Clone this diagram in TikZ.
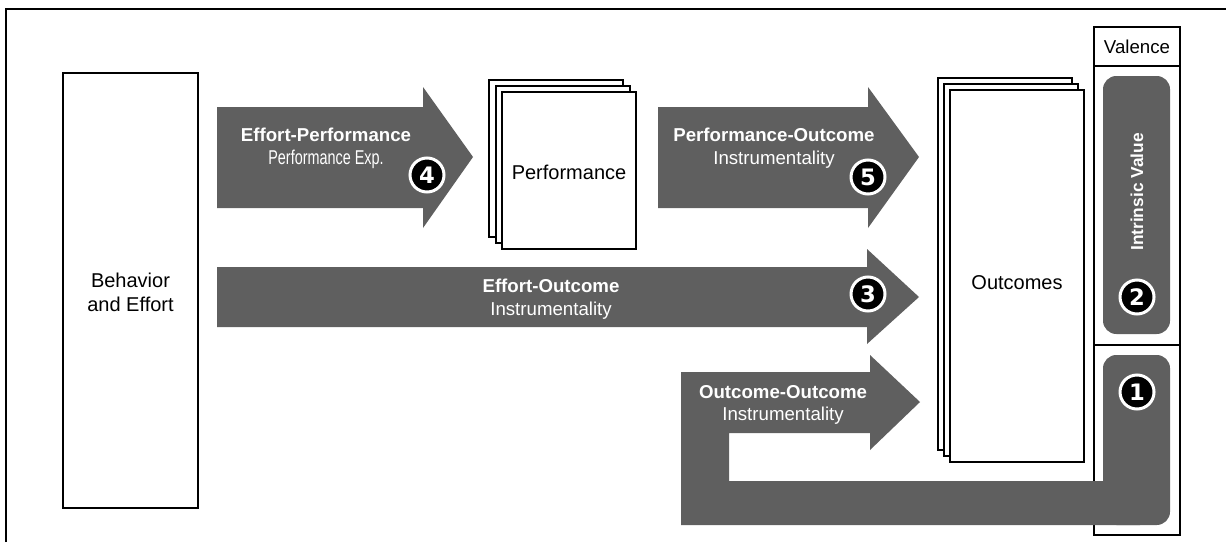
\documentclass[tikz,border=0pt]{standalone}
\usepackage{fontspec}
\setmainfont{Liberation Sans}
\newfontfamily\narrowsans[FakeStretch=0.72]{Liberation Sans}
\newfontfamily\digitfont{DejaVu Sans}
\definecolor{arrowgray}{RGB}{95,95,95}

\tikzset{
  sheet/.style={draw, line width=1.5pt, fill=white},
  boxlabel/.style={align=center, font=\fontsize{15pt}{18pt}\selectfont},
  arrowtext/.style={text=white, align=center, font=\fontsize{14pt}{17pt}\selectfont},
  numdot/.style={circle, fill=black, draw=white, line width=2.25pt,
                 minimum size=25.5pt, inner sep=0pt, text=white,
                 font=\digitfont\bfseries\fontsize{17pt}{17pt}\selectfont},
}

\begin{document}
\begin{tikzpicture}[x=0.75pt, y=-0.75pt]
\useasboundingbox (0,0) rectangle (1226,542);

% outer frame
\draw[line width=1.5pt] (6,542) |- (1226,9);

% behavior and effort
\draw[sheet] (63,73) rectangle (198,508);
\node[boxlabel] (behavior) at (130.5,292) {Behavior\\and Effort};

% performance stack
\draw[sheet] (489,80) rectangle (623,237);
\draw[sheet] (495.5,86) rectangle (629.5,243);
\draw[sheet] (502,92) rectangle (636,249);
\node[boxlabel] (performance) at (569,172) {Performance};

% outcomes stack
\draw[sheet] (938,78) rectangle (1072,450);
\draw[sheet] (944,84) rectangle (1078,456);
\draw[sheet] (950,90) rectangle (1084,462);
\node[boxlabel] (outcomes) at (1017,283) {Outcomes};

% valence column
\draw[line width=1.1pt] (1094,27) rectangle (1180,535);
\draw[line width=1.1pt] (1094,66) -- (1180,66);
\draw[line width=1.1pt] (1094,345) -- (1180,345);
\node[font=\fontsize{14pt}{16pt}\selectfont] (valence) at (1137,46.5) {Valence};

% block arrows
\fill[arrowgray] (217,107) -- (423,107) -- (423,87) -- (473,157)
  -- (423,228) -- (423,208) -- (217,208) -- cycle;
\fill[arrowgray] (658,107) -- (868,107) -- (868,87) -- (919,157)
  -- (868,228) -- (868,208) -- (658,208) -- cycle;
\fill[arrowgray] (217,267) -- (867,267) -- (867,249) -- (919,297)
  -- (867,344) -- (867,327) -- (217,327) -- cycle;
\fill[arrowgray] (681,372) -- (870,372) -- (870,355) -- (920,402)
  -- (870,450) -- (870,433) -- (729,433) -- (729,481) -- (1140,481)
  -- (1140,525) -- (681,525) -- cycle;
\fill[arrowgray, rounded corners=10] (1103,355) rectangle (1170,525);
\fill[arrowgray, rounded corners=10] (1103,76) rectangle (1170,334);

% arrow labels
\node[arrowtext] (effperf) at (326,148)
  {\textbf{Effort-Performance}\\{\narrowsans\fontsize{15pt}{17pt}\selectfont Performance Exp.}};
\node[arrowtext] (perfout) at (774,148)
  {\textbf{Performance-Outcome}\\Instrumentality};
\node[arrowtext] (effout) at (551,299)
  {\textbf{Effort-Outcome}\\Instrumentality};
\node[arrowtext] (outout) at (783,405)
  {\textbf{Outcome-Outcome}\\Instrumentality};
\node[text=white, rotate=90, font=\bfseries\fontsize{13pt}{15pt}\selectfont]
  (intrinsic) at (1137,192) {Intrinsic Value};

% numbers
\node[numdot] (n1) at (1137,392) {1};
\node[numdot] (n2) at (1137,297) {2};
\node[numdot] (n3) at (868,294) {3};
\node[numdot] (n4) at (427,175) {4};
\node[numdot] (n5) at (868,177) {5};
\end{tikzpicture}
\end{document}
